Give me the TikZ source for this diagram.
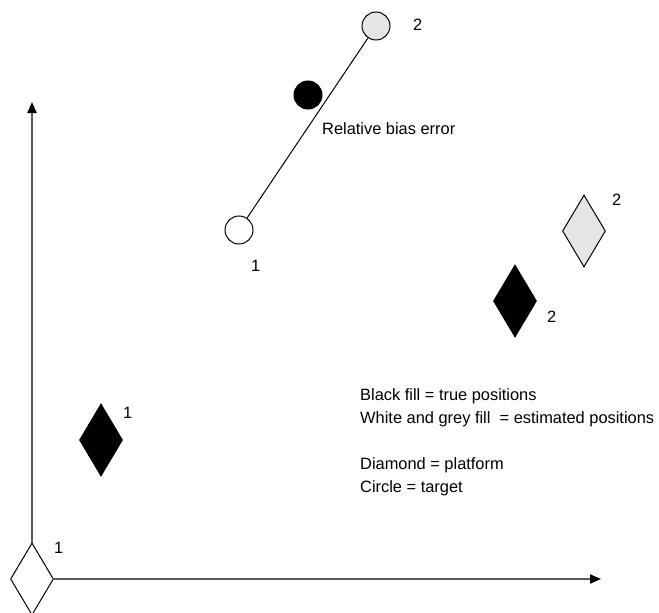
\documentclass[tikz,border=0pt]{standalone}
\usepackage{fontspec}
\setmainfont{Liberation Sans}
\usetikzlibrary{shapes.geometric,arrows.meta}
\begin{document}
\begin{tikzpicture}[x=1pt,y=-1pt,
  every node/.style={font=\fontsize{16.4}{20}\selectfont},
  dia/.style={shape=diamond, draw=black, line width=1pt, inner sep=0pt, minimum width=43pt, minimum height=72pt},
  circ/.style={shape=circle, draw=black, line width=1pt, inner sep=0pt, minimum size=28pt},
  lbl/.style={inner sep=0pt, anchor=west},
  axis/.style={draw=black!65, line width=2pt, -{Triangle[black,length=11pt,width=9pt]}}
]
\useasboundingbox (0,0) rectangle (659,613);
% diamonds
\node[dia, fill=white] (d0) at (32,579) {};
\node[dia, fill=black] (b1) at (101,440) {};
\node[dia, fill=black] (b2) at (515,301) {};
\node[dia, fill=black!10] (g2) at (584,231) {};
% circles
\node[circ, fill=white] (c1) at (239,230) {};
\node[circ, fill=black!10] (c2) at (376,26) {};
\node[circ, fill=black] (ct) at (308,95) {};
\draw[line width=1pt] (c1) -- (c2);
% axes
\coordinate (ytip) at (32,102);
\coordinate (xtip) at (601,579);
\draw[axis] (d0.north) -- (ytip);
\draw[axis] (d0.east) -- (xtip);
% labels
\node[lbl] (l0) at (54,548) {1};
\node[lbl] (l1) at (123,413) {1};
\node[lbl] (l2) at (547,317) {2};
\node[lbl] (l3) at (612,200) {2};
\node[lbl] (l4) at (251,266) {1};
\node[lbl] (l5) at (413,25) {2};
\node[lbl] (rb) at (322,129) {Relative bias error};
\node[lbl] (t1) at (360,396) {Black fill = true positions};
\node[lbl] (t2) at (360,419) {White and grey fill\ \ = estimated positions};
\node[lbl] (t3) at (360,465) {Diamond = platform};
\node[lbl] (t4) at (360,488) {Circle = target};
\end{tikzpicture}
\end{document}
